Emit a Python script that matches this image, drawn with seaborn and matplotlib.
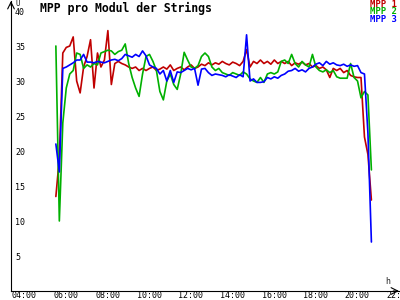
import numpy as np
import pandas as pd
import matplotlib
matplotlib.use("Agg")
import matplotlib.pyplot as plt
import matplotlib.transforms as mtransforms
import seaborn as sns

# time grid in minutes after midnight (05:55 .. 21:05, 10-minute samples)
minutes = np.arange(355, 1266, 10)

mpp1 = [13.5, 19, 34, 34.8, 35.0, 36.3,
        30, 28.3, 32, 33.5, 35.9, 29,
        34, 32, 33, 37.2, 29.5, 32.5,
        32.8, 32.5, 32.3, 32.0, 31.8, 32.0,
        31.5, 31.8, 31.5, 31.8, 32.0, 31.5,
        31.7, 32.0, 31.7, 32.3, 31.5, 31.8,
        32.0, 31.6, 32.0, 32.3, 31.8, 32.0,
        32.4, 32.2, 32.6, 32.3, 32.6, 32.4,
        32.8, 32.5, 32.3, 32.7, 32.5, 32.2,
        32.8, 34.5, 32.0, 32.8, 32.5, 33.0,
        32.5, 32.8, 32.4, 33.0, 32.5, 32.8,
        32.5, 32.8, 32.2, 32.6, 32.4, 32.7,
        32.3, 32.5, 32.0, 32.2, 31.8, 32.0,
        31.6, 30.5, 31.8, 31.5, 31.8, 31.2,
        31.5, 30.8, 30.6, 30.5, 30.5, 22,
        19.5, 13]

mpp2 = [35, 10, 24, 29, 31, 31.5,
        34, 33.8, 31.8, 32.3, 32, 32.5,
        32.3, 34, 34.2, 34.4, 34.3, 33.8,
        34.2, 34.4, 35.3, 32.5, 30.5, 29,
        27.8, 31, 33.5, 33.8, 32.8, 31.5,
        28.5, 27.3, 30, 31, 29.5, 28.8,
        31, 34.1, 33, 32, 31.8, 32.2,
        33.5, 34, 33.5, 32, 31.5, 31.8,
        31.2, 31, 30.8, 31.2, 31, 30.8,
        31.3, 31, 30.3, 30, 29.8, 30.5,
        29.8, 31, 31.2, 31, 31.3, 32.8,
        33, 32.5, 33.8, 32.5, 32, 32.8,
        32.3, 32, 33.8, 32, 31.5, 31.3,
        31.6, 31.2, 31.5, 30.6, 30.4, 30.4,
        30.4, 32.5, 30.5, 30, 27.6, 28.5,
        28, 17.3]

mpp3 = [21, 17, 31.8, 32, 32.3, 32.6,
        33, 33, 33.8, 32.7, 32.7, 32.6,
        32.8, 32.7, 32.6, 32.8, 33, 33.1,
        32.9, 33.2, 33.8, 33.6, 33.4, 33.8,
        33.5, 34.3, 33.6, 32.3, 32, 31.8,
        31, 31.5, 30, 31.5, 29.8, 31.3,
        31.2, 31.5, 31.8, 31.6, 31.8, 29.4,
        31.7, 31.8, 31.2, 30.8, 31, 30.9,
        30.8, 30.6, 30.9, 30.7, 30.5, 30.9,
        30.6, 36.6, 30, 30.3, 29.8, 29.8,
        29.9, 30.5, 30.3, 30.6, 30.4, 30.8,
        31, 31.4, 31.5, 31.8, 31.4, 31.6,
        31.3, 31.8, 32, 32.4, 32.6, 32.2,
        32.8, 32.4, 32.6, 32.3, 32.2, 32.4,
        32.1, 32.3, 32.1, 32.2, 31.2, 31,
        22.5, 7]

series_names = ["MPP 1", "MPP 2", "MPP 3"]
series_colors = ["#c00000", "#00b000", "#0000ff"]
x_ticks = [4, 6, 8, 10, 12, 14, 16, 18, 20, 22]
x_tick_labels = ["04:00", "06:00", "08:00", "10:00", "12:00",
                 "14:00", "16:00", "18:00", "20:00", "22:00"]
y_ticks = [5, 10, 15, 20, 25, 30, 35, 40]
title = "MPP pro Modul der Strings"

sns.set_theme(style="white")
plt.rcParams["font.family"] = ["DejaVu Sans Mono", "DejaVu Sans"]

hours = minutes / 60.0
df = pd.DataFrame({
    "t": np.tile(hours, 3),
    "v": mpp1 + mpp2 + mpp3,
    "s": np.repeat(series_names, len(hours)),
})

fig = plt.figure(figsize=(4, 3), dpi=100, facecolor="white")
ax = fig.add_axes([11 / 400, 9 / 300, 388 / 400, 290 / 300])
ax.set_facecolor("white")

sns.lineplot(data=df, x="t", y="v", hue="s", hue_order=series_names,
             palette=series_colors, estimator=None, sort=False,
             linewidth=1.2, legend=False, ax=ax)

ax.set_xlim(3.76, 22.41)
ax.set_ylim(0, 41.43)
ax.set_xlabel("")
ax.set_ylabel("")

for side in ["top", "right"]:
    ax.spines[side].set_visible(False)
for side in ["left", "bottom"]:
    ax.spines[side].set_color("black")
    ax.spines[side].set_linewidth(0.8)

ax.set_xticks(x_ticks)
ax.set_xticklabels(x_tick_labels)
ax.set_yticks(y_ticks)
ax.set_yticklabels([str(v) for v in y_ticks])
ax.tick_params(axis="both", direction="inout", length=4.3, width=0.8,
               color="black", labelsize=6, labelcolor="black", pad=0)

dx = mtransforms.ScaledTranslation(-0.04, 0.025, fig.dpi_scale_trans)
for lbl in ax.get_xticklabels():
    lbl.set_horizontalalignment("left")
    lbl.set_transform(lbl.get_transform() + dx)
dy = mtransforms.ScaledTranslation(0.07, 0, fig.dpi_scale_trans)
for lbl in ax.get_yticklabels():
    lbl.set_horizontalalignment("left")
    lbl.set_transform(lbl.get_transform() + dy)

# axis arrows
ax.annotate("", xy=(1.0, 0), xytext=(0.985, 0), xycoords="axes fraction",
            arrowprops=dict(arrowstyle="->", lw=0.8, color="black",
                            shrinkA=0, shrinkB=0), annotation_clip=False)
ax.annotate("", xy=(0, 1.0), xytext=(0, 0.985), xycoords="axes fraction",
            arrowprops=dict(arrowstyle="->", lw=0.8, color="black",
                            shrinkA=0, shrinkB=0), annotation_clip=False)

fig.text(40 / 400, 1 - 8 / 300, title, ha="left", va="center",
         fontsize=8.3, fontweight="bold", color="black")
for k, (name, col) in enumerate(zip(series_names, series_colors)):
    fig.text(370 / 400, 1 - (4.5 + 7.5 * k) / 300, name, ha="left",
             va="center", fontsize=6.5, fontweight="bold", color=col)
fig.text(15 / 400, 1 - 3 / 300, "U", ha="left", va="center", fontsize=5.5)
fig.text(385 / 400, 1 - 281 / 300, "h", ha="left", va="center", fontsize=6)

fig.savefig("out.png", dpi=100, facecolor="white")
